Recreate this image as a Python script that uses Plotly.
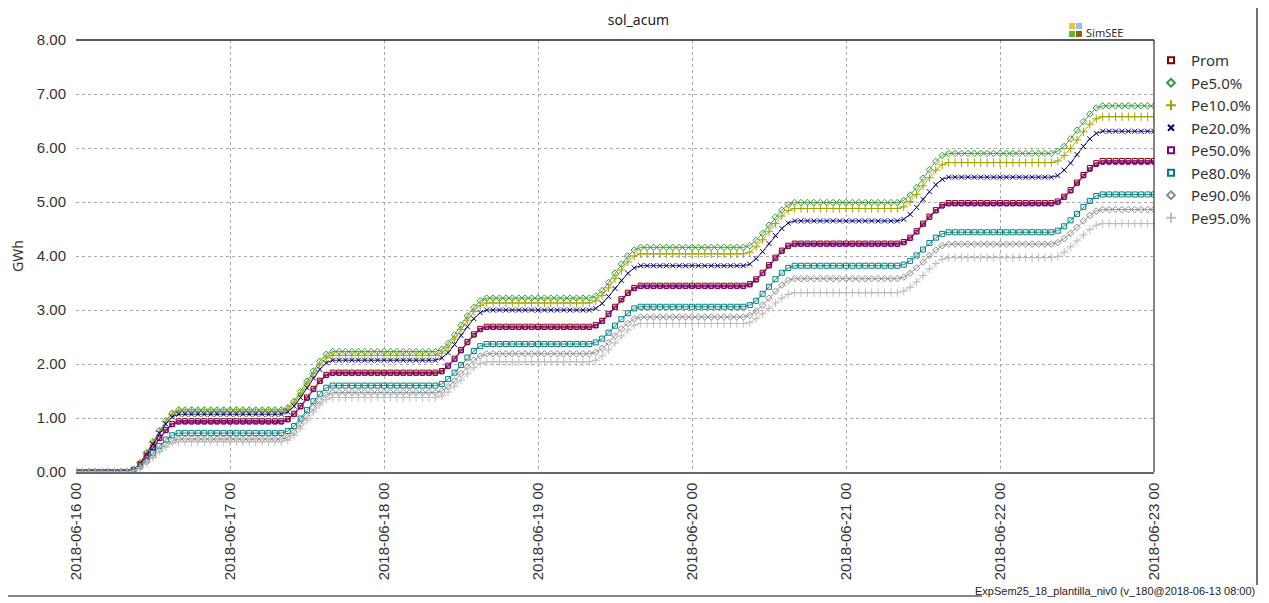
import plotly.graph_objects as go
import pandas as pd

# ---------------- data (hourly cumulative solar energy, GWh) ----------------
times = pd.date_range("2018-06-16 00:00", "2018-06-23 00:00", freq="h")

day_ticks = ["2018-06-16", "2018-06-17", "2018-06-18", "2018-06-19",
             "2018-06-20", "2018-06-21", "2018-06-22", "2018-06-23"]
day_tick_labels = ["2018-06-16 00", "2018-06-17 00", "2018-06-18 00", "2018-06-19 00",
                   "2018-06-20 00", "2018-06-21 00", "2018-06-22 00", "2018-06-23 00"]

y_ticks = [0, 1, 2, 3, 4, 5, 6, 7, 8]

prom = [
    0, 0, 0, 0, 0, 0, 0, 0, 0, 0.04, 0.14, 0.29, 0.46, 0.63, 0.78, 0.89, 0.94, 0.94, 0.94, 0.94, 0.94, 0.94, 0.94, 0.94,
    0.94, 0.94, 0.94, 0.94, 0.94, 0.94, 0.94, 0.94, 0.94, 0.98, 1.08, 1.22, 1.38, 1.54, 1.69, 1.80, 1.84, 1.84, 1.84, 1.84, 1.84, 1.84, 1.84, 1.84,
    1.84, 1.84, 1.84, 1.84, 1.84, 1.84, 1.84, 1.84, 1.84, 1.87, 1.97, 2.10, 2.26, 2.41, 2.55, 2.65, 2.69, 2.69, 2.69, 2.69, 2.69, 2.69, 2.69, 2.69,
    2.69, 2.69, 2.69, 2.69, 2.69, 2.69, 2.69, 2.69, 2.69, 2.72, 2.80, 2.93, 3.06, 3.20, 3.32, 3.41, 3.45, 3.45, 3.45, 3.45, 3.45, 3.45, 3.45, 3.45,
    3.45, 3.45, 3.45, 3.45, 3.45, 3.45, 3.45, 3.45, 3.45, 3.48, 3.57, 3.69, 3.83, 3.97, 4.10, 4.19, 4.23, 4.23, 4.23, 4.23, 4.23, 4.23, 4.23, 4.23,
    4.23, 4.23, 4.23, 4.23, 4.23, 4.23, 4.23, 4.23, 4.23, 4.26, 4.34, 4.46, 4.60, 4.73, 4.85, 4.94, 4.98, 4.98, 4.98, 4.98, 4.98, 4.98, 4.98, 4.98,
    4.98, 4.98, 4.98, 4.98, 4.98, 4.98, 4.98, 4.98, 4.98, 5.01, 5.10, 5.22, 5.36, 5.50, 5.63, 5.72, 5.76, 5.76, 5.76, 5.76, 5.76, 5.76, 5.76, 5.76,
    5.76]

pe5 = [
    0, 0, 0, 0, 0, 0, 0, 0, 0, 0.05, 0.17, 0.36, 0.56, 0.77, 0.95, 1.09, 1.15, 1.15, 1.15, 1.15, 1.15, 1.15, 1.15, 1.15,
    1.15, 1.15, 1.15, 1.15, 1.15, 1.15, 1.15, 1.15, 1.15, 1.19, 1.31, 1.49, 1.68, 1.87, 2.05, 2.18, 2.23, 2.23, 2.23, 2.23, 2.23, 2.23, 2.23, 2.23,
    2.23, 2.23, 2.23, 2.23, 2.23, 2.23, 2.23, 2.23, 2.23, 2.27, 2.38, 2.54, 2.72, 2.89, 3.05, 3.17, 3.22, 3.22, 3.22, 3.22, 3.22, 3.22, 3.22, 3.22,
    3.22, 3.22, 3.22, 3.22, 3.22, 3.22, 3.22, 3.22, 3.22, 3.26, 3.36, 3.51, 3.68, 3.85, 4.00, 4.11, 4.16, 4.16, 4.16, 4.16, 4.16, 4.16, 4.16, 4.16,
    4.16, 4.16, 4.16, 4.16, 4.16, 4.16, 4.16, 4.16, 4.16, 4.19, 4.29, 4.42, 4.57, 4.72, 4.85, 4.95, 4.99, 4.99, 4.99, 4.99, 4.99, 4.99, 4.99, 4.99,
    4.99, 4.99, 4.99, 4.99, 4.99, 4.99, 4.99, 4.99, 4.99, 5.03, 5.13, 5.27, 5.44, 5.60, 5.75, 5.86, 5.90, 5.90, 5.90, 5.90, 5.90, 5.90, 5.90, 5.90,
    5.90, 5.90, 5.90, 5.90, 5.90, 5.90, 5.90, 5.90, 5.90, 5.94, 6.03, 6.17, 6.33, 6.49, 6.63, 6.74, 6.78, 6.78, 6.78, 6.78, 6.78, 6.78, 6.78, 6.78,
    6.78]

pe10 = [
    0, 0, 0, 0, 0, 0, 0, 0, 0, 0.04, 0.17, 0.35, 0.55, 0.75, 0.93, 1.06, 1.12, 1.12, 1.12, 1.12, 1.12, 1.12, 1.12, 1.12,
    1.12, 1.12, 1.12, 1.12, 1.12, 1.12, 1.12, 1.12, 1.12, 1.16, 1.28, 1.44, 1.63, 1.82, 1.98, 2.11, 2.16, 2.16, 2.16, 2.16, 2.16, 2.16, 2.16, 2.16,
    2.16, 2.16, 2.16, 2.16, 2.16, 2.16, 2.16, 2.16, 2.16, 2.20, 2.31, 2.46, 2.64, 2.81, 2.97, 3.08, 3.13, 3.13, 3.13, 3.13, 3.13, 3.13, 3.13, 3.13,
    3.13, 3.13, 3.13, 3.13, 3.13, 3.13, 3.13, 3.13, 3.13, 3.17, 3.27, 3.41, 3.58, 3.74, 3.89, 4.00, 4.04, 4.04, 4.04, 4.04, 4.04, 4.04, 4.04, 4.04,
    4.04, 4.04, 4.04, 4.04, 4.04, 4.04, 4.04, 4.04, 4.04, 4.07, 4.17, 4.30, 4.45, 4.60, 4.74, 4.84, 4.88, 4.88, 4.88, 4.88, 4.88, 4.88, 4.88, 4.88,
    4.88, 4.88, 4.88, 4.88, 4.88, 4.88, 4.88, 4.88, 4.88, 4.91, 5.01, 5.14, 5.30, 5.45, 5.59, 5.69, 5.73, 5.73, 5.73, 5.73, 5.73, 5.73, 5.73, 5.73,
    5.73, 5.73, 5.73, 5.73, 5.73, 5.73, 5.73, 5.73, 5.73, 5.76, 5.86, 5.99, 6.15, 6.30, 6.44, 6.54, 6.58, 6.58, 6.58, 6.58, 6.58, 6.58, 6.58, 6.58,
    6.58]

pe20 = [
    0, 0, 0, 0, 0, 0, 0, 0, 0, 0.04, 0.16, 0.33, 0.52, 0.72, 0.89, 1.02, 1.07, 1.07, 1.07, 1.07, 1.07, 1.07, 1.07, 1.07,
    1.07, 1.07, 1.07, 1.07, 1.07, 1.07, 1.07, 1.07, 1.07, 1.11, 1.22, 1.38, 1.56, 1.74, 1.90, 2.02, 2.07, 2.07, 2.07, 2.07, 2.07, 2.07, 2.07, 2.07,
    2.07, 2.07, 2.07, 2.07, 2.07, 2.07, 2.07, 2.07, 2.07, 2.11, 2.21, 2.36, 2.53, 2.69, 2.84, 2.95, 3.00, 3.00, 3.00, 3.00, 3.00, 3.00, 3.00, 3.00,
    3.00, 3.00, 3.00, 3.00, 3.00, 3.00, 3.00, 3.00, 3.00, 3.03, 3.12, 3.25, 3.40, 3.55, 3.68, 3.78, 3.82, 3.82, 3.82, 3.82, 3.82, 3.82, 3.82, 3.82,
    3.82, 3.82, 3.82, 3.82, 3.82, 3.82, 3.82, 3.82, 3.82, 3.85, 3.95, 4.08, 4.23, 4.38, 4.51, 4.61, 4.65, 4.65, 4.65, 4.65, 4.65, 4.65, 4.65, 4.65,
    4.65, 4.65, 4.65, 4.65, 4.65, 4.65, 4.65, 4.65, 4.65, 4.68, 4.77, 4.90, 5.05, 5.19, 5.32, 5.42, 5.46, 5.46, 5.46, 5.46, 5.46, 5.46, 5.46, 5.46,
    5.46, 5.46, 5.46, 5.46, 5.46, 5.46, 5.46, 5.46, 5.46, 5.49, 5.59, 5.72, 5.88, 6.03, 6.17, 6.27, 6.31, 6.31, 6.31, 6.31, 6.31, 6.31, 6.31, 6.31,
    6.31]

pe50 = [
    0, 0, 0, 0, 0, 0, 0, 0, 0, 0.04, 0.14, 0.29, 0.45, 0.62, 0.76, 0.87, 0.92, 0.92, 0.92, 0.92, 0.92, 0.92, 0.92, 0.92,
    0.92, 0.92, 0.92, 0.92, 0.92, 0.92, 0.92, 0.92, 0.92, 0.96, 1.06, 1.20, 1.36, 1.52, 1.67, 1.78, 1.82, 1.82, 1.82, 1.82, 1.82, 1.82, 1.82, 1.82,
    1.82, 1.82, 1.82, 1.82, 1.82, 1.82, 1.82, 1.82, 1.82, 1.85, 1.95, 2.08, 2.24, 2.39, 2.53, 2.63, 2.67, 2.67, 2.67, 2.67, 2.67, 2.67, 2.67, 2.67,
    2.67, 2.67, 2.67, 2.67, 2.67, 2.67, 2.67, 2.67, 2.67, 2.70, 2.78, 2.91, 3.04, 3.18, 3.30, 3.39, 3.43, 3.43, 3.43, 3.43, 3.43, 3.43, 3.43, 3.43,
    3.43, 3.43, 3.43, 3.43, 3.43, 3.43, 3.43, 3.43, 3.43, 3.46, 3.55, 3.67, 3.81, 3.95, 4.08, 4.17, 4.21, 4.21, 4.21, 4.21, 4.21, 4.21, 4.21, 4.21,
    4.21, 4.21, 4.21, 4.21, 4.21, 4.21, 4.21, 4.21, 4.21, 4.24, 4.32, 4.44, 4.58, 4.71, 4.83, 4.92, 4.96, 4.96, 4.96, 4.96, 4.96, 4.96, 4.96, 4.96,
    4.96, 4.96, 4.96, 4.96, 4.96, 4.96, 4.96, 4.96, 4.96, 4.99, 5.08, 5.20, 5.34, 5.48, 5.60, 5.69, 5.73, 5.73, 5.73, 5.73, 5.73, 5.73, 5.73, 5.73,
    5.73]

pe80 = [
    0, 0, 0, 0, 0, 0, 0, 0, 0, 0.03, 0.11, 0.22, 0.35, 0.48, 0.60, 0.68, 0.72, 0.72, 0.72, 0.72, 0.72, 0.72, 0.72, 0.72,
    0.72, 0.72, 0.72, 0.72, 0.72, 0.72, 0.72, 0.72, 0.72, 0.76, 0.85, 0.99, 1.15, 1.31, 1.45, 1.56, 1.60, 1.60, 1.60, 1.60, 1.60, 1.60, 1.60, 1.60,
    1.60, 1.60, 1.60, 1.60, 1.60, 1.60, 1.60, 1.60, 1.60, 1.63, 1.72, 1.84, 1.98, 2.12, 2.24, 2.33, 2.37, 2.37, 2.37, 2.37, 2.37, 2.37, 2.37, 2.37,
    2.37, 2.37, 2.37, 2.37, 2.37, 2.37, 2.37, 2.37, 2.37, 2.40, 2.47, 2.58, 2.71, 2.83, 2.94, 3.03, 3.06, 3.06, 3.06, 3.06, 3.06, 3.06, 3.06, 3.06,
    3.06, 3.06, 3.06, 3.06, 3.06, 3.06, 3.06, 3.06, 3.06, 3.09, 3.17, 3.30, 3.43, 3.57, 3.69, 3.78, 3.82, 3.82, 3.82, 3.82, 3.82, 3.82, 3.82, 3.82,
    3.82, 3.82, 3.82, 3.82, 3.82, 3.82, 3.82, 3.82, 3.82, 3.84, 3.91, 4.01, 4.12, 4.24, 4.34, 4.41, 4.44, 4.44, 4.44, 4.44, 4.44, 4.44, 4.44, 4.44,
    4.44, 4.44, 4.44, 4.44, 4.44, 4.44, 4.44, 4.44, 4.44, 4.47, 4.55, 4.66, 4.78, 4.91, 5.02, 5.11, 5.14, 5.14, 5.14, 5.14, 5.14, 5.14, 5.14, 5.14,
    5.14]

pe90 = [
    0, 0, 0, 0, 0, 0, 0, 0, 0, 0.02, 0.09, 0.19, 0.30, 0.41, 0.51, 0.58, 0.61, 0.61, 0.61, 0.61, 0.61, 0.61, 0.61, 0.61,
    0.61, 0.61, 0.61, 0.61, 0.61, 0.61, 0.61, 0.61, 0.61, 0.64, 0.74, 0.88, 1.03, 1.19, 1.32, 1.43, 1.47, 1.47, 1.47, 1.47, 1.47, 1.47, 1.47, 1.47,
    1.47, 1.47, 1.47, 1.47, 1.47, 1.47, 1.47, 1.47, 1.47, 1.50, 1.58, 1.69, 1.82, 1.95, 2.07, 2.15, 2.19, 2.19, 2.19, 2.19, 2.19, 2.19, 2.19, 2.19,
    2.19, 2.19, 2.19, 2.19, 2.19, 2.19, 2.19, 2.19, 2.19, 2.22, 2.29, 2.40, 2.52, 2.65, 2.75, 2.84, 2.87, 2.87, 2.87, 2.87, 2.87, 2.87, 2.87, 2.87,
    2.87, 2.87, 2.87, 2.87, 2.87, 2.87, 2.87, 2.87, 2.87, 2.90, 2.98, 3.09, 3.22, 3.35, 3.46, 3.55, 3.58, 3.58, 3.58, 3.58, 3.58, 3.58, 3.58, 3.58,
    3.58, 3.58, 3.58, 3.58, 3.58, 3.58, 3.58, 3.58, 3.58, 3.61, 3.68, 3.78, 3.89, 4.01, 4.11, 4.19, 4.22, 4.22, 4.22, 4.22, 4.22, 4.22, 4.22, 4.22,
    4.22, 4.22, 4.22, 4.22, 4.22, 4.22, 4.22, 4.22, 4.22, 4.25, 4.32, 4.42, 4.53, 4.65, 4.75, 4.83, 4.86, 4.86, 4.86, 4.86, 4.86, 4.86, 4.86, 4.86,
    4.86]

pe95 = [
    0, 0, 0, 0, 0, 0, 0, 0, 0, 0.02, 0.08, 0.17, 0.27, 0.38, 0.46, 0.53, 0.56, 0.56, 0.56, 0.56, 0.56, 0.56, 0.56, 0.56,
    0.56, 0.56, 0.56, 0.56, 0.56, 0.56, 0.56, 0.56, 0.56, 0.59, 0.68, 0.81, 0.96, 1.11, 1.24, 1.34, 1.38, 1.38, 1.38, 1.38, 1.38, 1.38, 1.38, 1.38,
    1.38, 1.38, 1.38, 1.38, 1.38, 1.38, 1.38, 1.38, 1.38, 1.41, 1.48, 1.59, 1.70, 1.82, 1.93, 2.01, 2.04, 2.04, 2.04, 2.04, 2.04, 2.04, 2.04, 2.04,
    2.04, 2.04, 2.04, 2.04, 2.04, 2.04, 2.04, 2.04, 2.04, 2.07, 2.15, 2.26, 2.39, 2.52, 2.63, 2.72, 2.75, 2.75, 2.75, 2.75, 2.75, 2.75, 2.75, 2.75,
    2.75, 2.75, 2.75, 2.75, 2.75, 2.75, 2.75, 2.75, 2.75, 2.77, 2.84, 2.93, 3.03, 3.13, 3.22, 3.29, 3.32, 3.32, 3.32, 3.32, 3.32, 3.32, 3.32, 3.32,
    3.32, 3.32, 3.32, 3.32, 3.32, 3.32, 3.32, 3.32, 3.32, 3.35, 3.42, 3.52, 3.64, 3.76, 3.86, 3.94, 3.97, 3.97, 3.97, 3.97, 3.97, 3.97, 3.97, 3.97,
    3.97, 3.97, 3.97, 3.97, 3.97, 3.97, 3.97, 3.97, 3.97, 3.99, 4.07, 4.17, 4.28, 4.39, 4.49, 4.57, 4.60, 4.60, 4.60, 4.60, 4.60, 4.60, 4.60, 4.60,
    4.60]

series_names = ["Prom", "Pe5.0%", "Pe10.0%", "Pe20.0%", "Pe50.0%", "Pe80.0%", "Pe90.0%", "Pe95.0%"]
series_values = [prom, pe5, pe10, pe20, pe50, pe80, pe90, pe95]

for v in series_values:
    assert len(v) == len(times), len(v)

# ---------------- styles ----------------
colors = ["#800000", "#339933", "#a3a300", "#000080", "#800080", "#008080", "#8c8c8c", "#bdbdbd"]
symbols = ["square-open", "diamond-open", "cross-thin-open", "x-thin-open",
           "square-open", "square-open", "diamond-open", "cross-thin-open"]
sizes = [5, 5, 6, 5, 3.5, 5, 5, 6]

# the page adds an 8px body margin; reference pixel coordinates are shifted by it
OFF = 8
W, H = 1269 - OFF, 603 - OFF
L, R, T, B = 76 - OFF, 1154 - OFF, 40 - OFF, 472 - OFF


def px(x):
    return (x - OFF - L) / (R - L)


def py(y):
    return (B - (y - OFF)) / (B - T)


fig = go.Figure()
for name, vals, c, s, sz in zip(series_names, series_values, colors, symbols, sizes):
    fig.add_trace(go.Scatter(
        x=times, y=vals, name=name, mode="lines+markers",
        line=dict(color=c, width=0.9),
        marker=dict(symbol=s, size=sz, color=c, line=dict(color=c, width=1)),
        showlegend=False,
    ))
# legend entries (markers only, like the reference legend)
for name, c, s, sz in zip(series_names, colors, symbols, sizes):
    fig.add_trace(go.Scatter(
        x=[None], y=[None], name=name, mode="markers",
        marker=dict(symbol=s, size=max(sz, 5) + 1, color=c, line=dict(color=c, width=2)),
        legendgroup=name, showlegend=True,
    ))

grid = dict(showgrid=True, gridcolor="#a8a8a8", gridwidth=1, griddash="3px,3px")

fig.update_layout(
    width=W, height=H,
    margin=dict(l=L, r=W - R, t=T, b=H - B, autoexpand=False),
    paper_bgcolor="white", plot_bgcolor="white",
    title=dict(text="sol_acum", x=px(615), xanchor="center", y=1 - (20 - OFF) / H, yanchor="middle",
               font=dict(family="Noto Sans", size=14, color="#222")),
    font=dict(family="Liberation Sans", color="#333"),
    showlegend=True,
    legend=dict(x=px(1151), xanchor="left", y=py(44), yanchor="top",
                font=dict(family="Noto Sans", size=15, color="#333"),
                tracegroupgap=0, itemwidth=30, bgcolor="rgba(0,0,0,0)"),
    xaxis=dict(range=[times[0], times[-1]], tickvals=day_ticks, ticktext=day_tick_labels,
               tickangle=-90, tickfont=dict(family="Liberation Sans", size=15, color="#333"),
               showline=True, linecolor="#666", linewidth=1.5, zeroline=False, automargin=False,
               ticks="", ticklen=0, ticklabelstandoff=3, **grid),
    yaxis=dict(range=[0, 8], tickvals=y_ticks, tickformat=".2f", automargin=False,
               tickfont=dict(family="Liberation Sans", size=15, color="#333"),
               title=dict(text="GWh", font=dict(family="Noto Sans", size=14, color="#333"), standoff=9),
               zeroline=False, showline=False, ticks="", ticklabelstandoff=9, **grid),
)

shapes = [
    # plot top and right border
    dict(type="line", xref="paper", yref="paper", x0=0, x1=1, y0=1, y1=1, line=dict(color="#222", width=1.5)),
    dict(type="line", xref="paper", yref="paper", x0=1, x1=1, y0=0, y1=1, line=dict(color="#333", width=1.2)),
    # outer frame: right vertical and bottom line
    dict(type="line", xref="paper", yref="paper", x0=px(1257), x1=px(1257), y0=py(OFF), y1=py(585),
         line=dict(color="#111", width=1.2)),
    dict(type="line", xref="paper", yref="paper", x0=px(OFF), x1=px(982), y0=py(596), y1=py(596),
         line=dict(color="#111", width=1.2)),
    # SimSEE logo squares
    dict(type="rect", xref="paper", yref="paper", x0=px(1069), x1=px(1075), y0=py(29), y1=py(23),
         fillcolor="#f2c530", line=dict(width=0)),
    dict(type="rect", xref="paper", yref="paper", x0=px(1076), x1=px(1082), y0=py(29), y1=py(23),
         fillcolor="#8cc4f0", line=dict(width=0)),
    dict(type="rect", xref="paper", yref="paper", x0=px(1069), x1=px(1075), y0=py(37), y1=py(31),
         fillcolor="#5cb82e", line=dict(width=0)),
    dict(type="rect", xref="paper", yref="paper", x0=px(1076), x1=px(1082), y0=py(37), y1=py(31),
         fillcolor="#8a6410", line=dict(width=0)),
]
fig.update_layout(shapes=shapes)

fig.add_annotation(text="SimSEE", xref="paper", yref="paper", x=px(1084), y=py(33),
                   xanchor="left", yanchor="middle", showarrow=False,
                   font=dict(family="Noto Sans", size=11, color="#333"))
fig.add_annotation(text="ExpSem25_18_plantilla_niv0 (v_180@2018-06-13 08:00)", xref="paper", yref="paper",
                   x=px(1257), y=py(591), xanchor="right", yanchor="middle", showarrow=False,
                   font=dict(family="Liberation Sans Narrow, Liberation Sans", size=11, color="#222"))

fig.write_html("out.html")
